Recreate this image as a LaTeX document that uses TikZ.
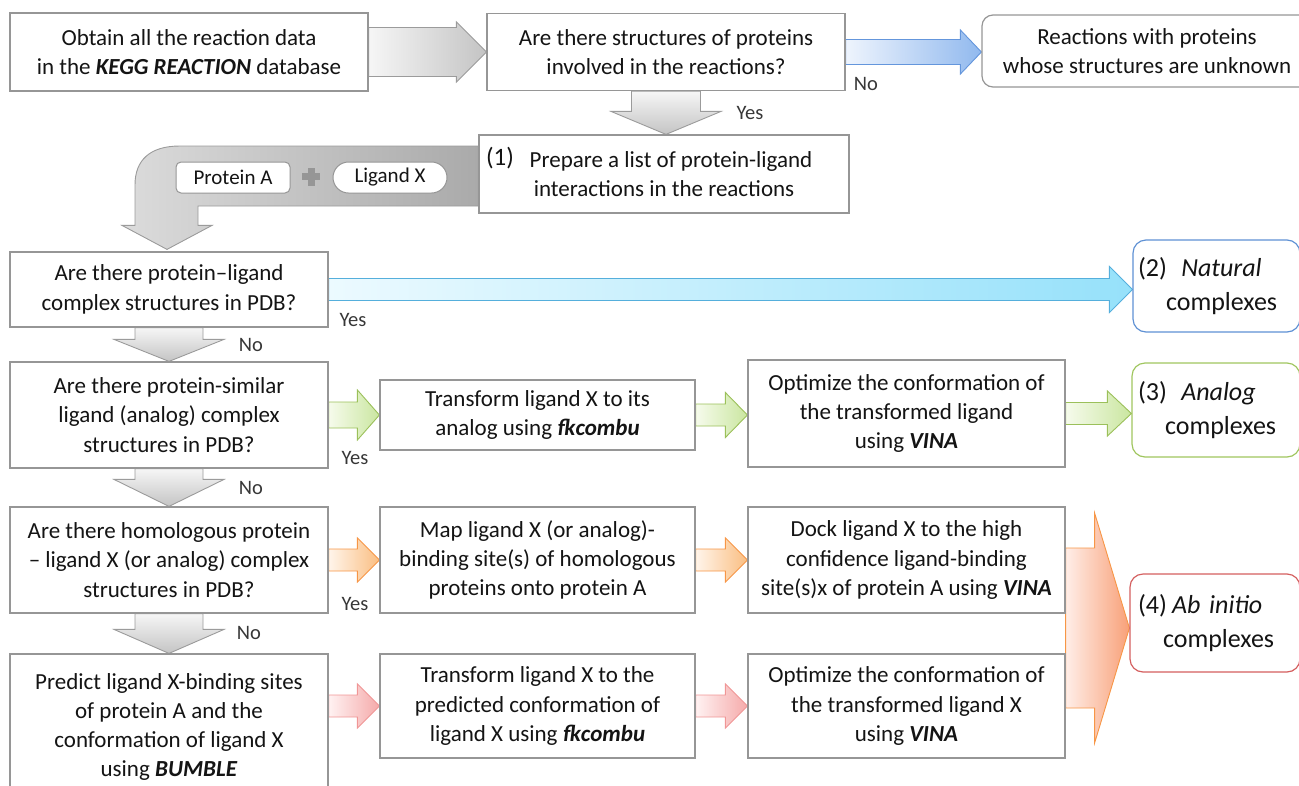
\documentclass[tikz,border=0pt]{standalone}
\usepackage{fontspec}
\setmainfont{Carlito}
\usetikzlibrary{calc,backgrounds}
\definecolor{boxline}{RGB}{150,150,150}
\definecolor{txt}{RGB}{20,20,20}
\definecolor{grayL}{RGB}{246,246,246}
\definecolor{grayD}{RGB}{196,196,196}
\definecolor{grayB}{RGB}{155,155,155}
\definecolor{blueL}{RGB}{238,244,253}
\definecolor{blueD}{RGB}{145,185,238}
\definecolor{blueB}{RGB}{100,150,220}
\definecolor{cyanL}{RGB}{236,250,255}
\definecolor{cyanD}{RGB}{150,225,250}
\definecolor{cyanB}{RGB}{85,175,220}
\definecolor{greenL}{RGB}{246,251,236}
\definecolor{greenD}{RGB}{202,230,160}
\definecolor{greenB}{RGB}{155,192,90}
\definecolor{orangeL}{RGB}{255,245,235}
\definecolor{orangeD}{RGB}{250,190,130}
\definecolor{orangeB}{RGB}{247,150,70}
\definecolor{pinkL}{RGB}{255,242,242}
\definecolor{pinkD}{RGB}{245,170,170}
\definecolor{pinkB}{RGB}{240,150,150}
\definecolor{bigL}{RGB}{255,238,232}
\definecolor{bigD}{RGB}{248,160,120}
\definecolor{natB}{RGB}{95,145,212}
\definecolor{anaB}{RGB}{160,198,95}
\definecolor{abB}{RGB}{212,95,95}
\definecolor{plusgray}{RGB}{150,150,150}
\newcommand\fsmain{\fontsize{23}{29.3}\selectfont}
\newcommand\fsterm{\fontsize{26}{34}\selectfont}
\newcommand\fslab{\fontsize{20.5}{24}\selectfont}
\newcommand\fspill{\fontsize{21}{24}\selectfont}
\newcommand\harr[6]{%
  \shadedraw[#6] let \p1=(#1), \p2=(#2) in
    (\x1,\y1+#3pt) -- (\x2-#5pt,\y1+#3pt) -- (\x2-#5pt,\y1+#4pt) -- (\x2,\y1)
    -- (\x2-#5pt,\y1-#4pt) -- (\x2-#5pt,\y1-#3pt) -- (\x1,\y1-#3pt) -- cycle;}
\newcommand\varr[6]{%
  \shadedraw[#6] let \p1=(#1), \p2=(#2) in
    (\x1-#3pt,\y1) -- (\x1-#3pt,\y2+#5pt) -- (\x1-#4pt,\y2+#5pt) -- (\x1,\y2)
    -- (\x1+#4pt,\y2+#5pt) -- (\x1+#3pt,\y2+#5pt) -- (\x1+#3pt,\y1) -- cycle;}
\begin{document}
\begin{tikzpicture}[x=1pt,y=-1pt,
  box/.style={draw=boxline, line width=1.2pt, fill=white, align=center, inner sep=0pt, font=\fsmain, text=txt},
  rbox/.style={box, rounded corners=11pt},
  term/.style={draw, line width=1.2pt, fill=white, rounded corners=13pt, inner sep=0pt, align=left, font=\fsterm, text=txt},
  lab/.style={font=\fslab, text=txt!85, inner sep=0pt},
  grayH/.style={left color=grayL, right color=grayD, draw=grayB, line width=0.9pt},
  grayV/.style={top color=grayL, bottom color=grayD, draw=grayB, line width=0.9pt},
  blueA/.style={left color=blueL, right color=blueD, draw=blueB, line width=0.9pt},
  cyanA/.style={left color=cyanL, right color=cyanD, draw=cyanB, line width=0.9pt},
  greenA/.style={left color=greenL, right color=greenD, draw=greenB, line width=0.9pt},
  orangeA/.style={left color=orangeL, right color=orangeD, draw=orangeB, line width=0.9pt},
  pinkA/.style={left color=pinkL, right color=pinkD, draw=pinkB, line width=0.9pt},
  bigA/.style={left color=bigL, right color=bigD, draw=orangeB, line width=0.9pt},
  curveA/.style={left color=grayD!60, right color=grayB!85, draw=grayB, line width=0.9pt},
  pill/.style={draw=boxline, line width=1pt, fill=white, inner sep=0pt, font=\fspill, text=txt}
]
\path[use as bounding box] (0,0) rectangle (1299,785);

% row 0
\node[box, minimum width=358pt, minimum height=78pt] (B1) at (189,52)
  {Obtain all the reaction data\\in the \textbf{\textit{KEGG REACTION}} database};
\node[box, minimum width=358pt, minimum height=77pt] (B2) at (666,52)
  {Are there structures of proteins\\involved in the reactions?};
\node[rbox, minimum width=330pt, minimum height=72pt] (R0) at (1147,51)
  {Reactions with proteins\\whose structures are unknown};
% row 1
\node[box, minimum width=370pt, minimum height=78pt] (B3) at (664,174)
  {\hspace*{14pt}Prepare a list of protein-ligand\\interactions in the reactions};
\node[font=\fontsize{25}{27}\selectfont, text=txt, inner sep=0pt] (n1) at (500,158) {(1)};
\node[pill, rounded corners=5pt, minimum width=114pt, minimum height=31pt] (PA) at (233,177.5) {Protein A};
\node[pill, rounded corners=15.5pt, minimum width=114pt, minimum height=31pt] (LX) at (390,177.5) {Ligand X};
\fill[plusgray] (302,173) rectangle (320,180);
\fill[plusgray] (307.5,167.5) rectangle (314.5,185.5);
% row 2
\node[box, minimum width=318pt, minimum height=75pt] (B4) at (169,289.5)
  {Are there protein–ligand\\complex structures in PDB?};
\node[term, draw=natB, minimum width=167pt, minimum height=92pt, text width=157pt] (NAT) at (1216.5,286)
  {(2)\hspace{0.55em}\textit{Natural}\\\hspace*{28pt}complexes};
% row 3
\node[box, minimum width=318pt, minimum height=106pt] (B5) at (169,415)
  {Are there protein-similar\\ligand (analog) complex\\structures in PDB?};
\node[box, minimum width=315pt, minimum height=70pt] (B6) at (537.5,415)
  {Transform ligand X to its\\analog using \textbf{\textit{fkcombu}}};
\node[box, minimum width=317pt, minimum height=107pt] (B7) at (906.5,413.5)
  {Optimize the conformation of\\the transformed ligand\\using \textbf{\textit{VINA}}};
\node[term, draw=anaB, minimum width=168pt, minimum height=94pt, text width=156pt] (ANA) at (1216,410)
  {(3)\hspace{0.55em}\textit{Analog}\\\hspace*{27pt}complexes};
% row 4
\node[box, minimum width=318pt, minimum height=106pt] (B8) at (169,560)
  {Are there homologous protein\\– ligand X (or analog) complex\\structures in PDB?};
\node[box, minimum width=315pt, minimum height=106pt] (B9) at (537.5,560)
  {Map ligand X (or analog)-\\binding site(s) of homologous\\proteins onto protein A};
\node[box, minimum width=317pt, minimum height=106pt] (B10) at (906.5,560)
  {Dock ligand X to the high\\confidence ligand-binding\\site(s)x of protein A using \textbf{\textit{VINA}}};
\node[term, draw=abB, minimum width=170pt, minimum height=98pt, text width=154pt] (AB) at (1215,623)
  {(4)\hspace{0.2em}\textit{Ab initio}\\\hspace*{25pt}complexes};
% row 5
\node[box, minimum width=318pt, minimum height=146pt] (B11) at (169,727)
  {Predict ligand X-binding sites\\of protein A and the\\conformation of ligand X\\using \textbf{\textit{BUMBLE}}};
\node[box, minimum width=315pt, minimum height=104pt] (B12) at (537.5,706)
  {Transform ligand X to the\\predicted conformation of\\ligand X using \textbf{\textit{fkcombu}}};
\node[box, minimum width=317pt, minimum height=104pt] (B13) at (906.5,706)
  {Optimize the conformation of\\the transformed ligand X\\using \textbf{\textit{VINA}}};

% labels
\node[lab] (l1) at (866,84) {No};
\node[lab] (l2) at (750,113) {Yes};
\node[lab] (l3) at (353,320) {Yes};
\node[lab] (l4) at (251,345) {No};
\node[lab] (l5) at (355,458) {Yes};
\node[lab] (l6) at (251,488) {No};
\node[lab] (l7) at (355,604) {Yes};
\node[lab] (l8) at (249,633) {No};

\begin{scope}[on background layer]
\harr{B1.east}{B2.west}{24.5}{30}{30}{grayH}
\harr{B2.east}{R0.west}{12.5}{22}{21}{blueA}
\varr{B2.south}{B3.north}{34.5}{55}{23}{grayV}
% curved arrow from (1) to B4
\shadedraw[curveA] let \p1=(B3.west), \p2=(B4.north) in
  (\x1,\y1+28pt) -- (\x2+11pt,\y1+28pt) .. controls (\x2-19pt,\y1+28pt) and (\x2-34pt,\y1+14pt) .. (\x2-34pt,\y1-11pt)
  -- (\x2-34pt,\y2+26pt) -- (\x2-47pt,\y2+26pt) -- (\x2-2pt,\y2+2pt) -- (\x2+43pt,\y2+26pt)
  -- (\x2+29pt,\y2+26pt) -- (\x2+29pt,\y1-32pt) -- (\x1,\y1-32pt) -- cycle;
\harr{B4.east}{NAT.west}{11}{23}{23}{cyanA}
\varr{B4.south}{B5.north}{34}{55}{22}{grayV}
\harr{B5.east}{B6.west}{13}{25}{22}{greenA}
\harr{B6.east}{B7.west}{11}{22.5}{22}{greenA}
\harr{B7.east}{ANA.west}{11}{22.5}{24}{greenA}
\varr{B5.south}{B8.north}{34}{55}{27}{grayV}
\harr{B8.east}{B9.west}{11}{22}{22}{orangeA}
\harr{B9.east}{B10.west}{11}{22}{22}{orangeA}
\varr{B8.south}{B11.north}{34}{55}{24}{grayV}
\harr{B11.east |- B12.west}{B12.west}{11}{22}{22}{pinkA}
\harr{B12.east}{B13.west}{11}{22}{22}{pinkA}
% big merging arrow
\shadedraw[bigA] let \p1=(B10.east), \p2=(B13.east), \p3=(AB.west) in
  (\x1,\y1+12pt) -- (\x1+29pt,\y1+12pt) -- (\x1+29pt,\y1+47pt) -- (\x3,{(\y1+\y2)/2+5pt})
  -- (\x1+29pt,\y2-37pt) -- (\x1+29pt,\y2-2pt) -- (\x1,\y2-2pt) -- cycle;
\end{scope}
\end{tikzpicture}
\end{document}
